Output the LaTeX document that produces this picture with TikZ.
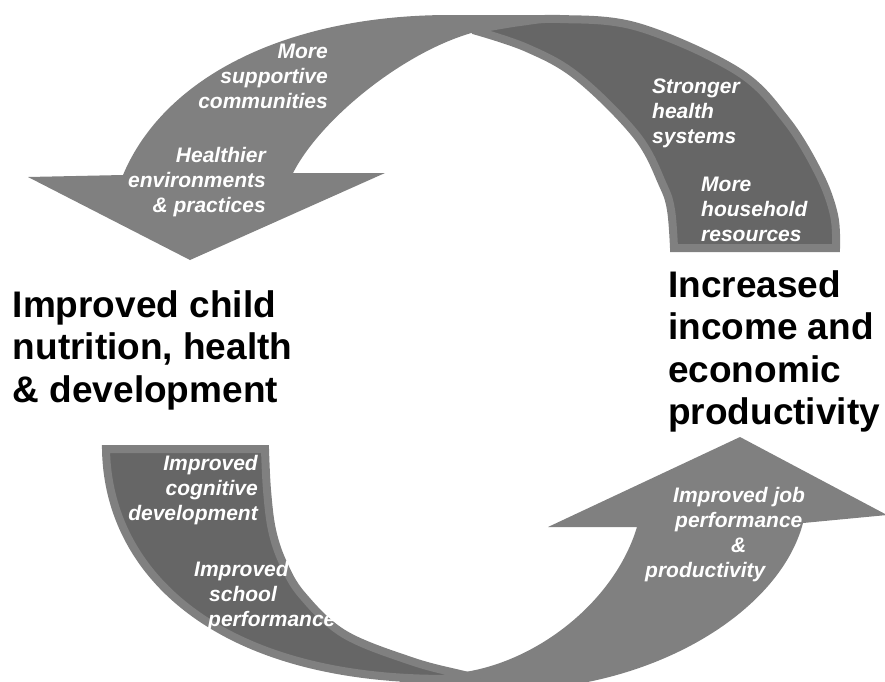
\documentclass[tikz,border=0pt]{standalone}
\usepackage{fontspec}
\setmainfont{Liberation Sans}
\definecolor{arrowgray}{RGB}{128,128,128}
\definecolor{bandgray}{RGB}{102,102,102}
\begin{document}
\begin{tikzpicture}[x=1pt,y=-1pt,
  arrowshape/.style={fill=arrowgray},
  bandshape/.style={fill=bandgray,draw=arrowgray,line width=8pt,line join=miter,miter limit=2},
  outcome/.style={font=\fontsize{37}{42.6}\selectfont\bfseries,align=left,inner sep=0pt,text=black},
  effect/.style={font=\fontsize{21}{25}\selectfont\bfseries\itshape,inner sep=0pt,text=white}]
\path[use as bounding box] (0,0) rectangle (885,681);
\clip (0,0) rectangle (885,681);

% left arrow: from the top, bending down towards child nutrition
\fill[arrowshape] (28,177) -- (123,175) .. controls (165,75) and (290,15) .. (450,15)
  -- (560,15) -- (560,26) -- (480,30) -- (468,34)
  .. controls (400,55) and (320,120) .. (293,173) -- (385,173) -- (190,260) -- cycle;

% right arrow: rising from the bottom towards income
\fill[arrowshape] (548,527) -- (637,527) .. controls (615,600) and (540,660) .. (465,672)
  -- (400,681) -- (400,700) -- (520,700) -- (520,690)
  .. controls (660,685) and (780,610) .. (803,523) -- (887,515) -- (740,437) -- cycle;

% upper right band
\path[bandshape] plot[smooth,tension=0.6] coordinates {(473,30) (520,22) (560,19) (638,27) (737,71) (786,120) (819,174) (834,215) (836,248)}
  -- (674,248)
  -- plot[smooth,tension=0.6] coordinates {(674,248) (671,210) (663,185) (637,136) (578,77) (527,48) (473,30)} -- cycle;

% lower left band
\path[bandshape] (106,449) -- (265,449)
  -- plot[smooth,tension=0.6] coordinates {(265,449) (267,490) (272,530) (283,563) (302,595) (344,634) (411,661) (460,674) (480,678)}
  .. controls (230,690) and (108,580) .. (106,449) -- cycle;

% outcomes
\node[outcome,anchor=north west] (child) at (12.6,290) {Improved child\\nutrition, health\\\& development};
\node[outcome,anchor=north west] (income) at (668,270) {Increased\\income and\\economic\\productivity};

% pathways
\node[effect,align=right,anchor=north east] (community) at (328,44) {More\\supportive\\communities};
\node[effect,align=right,anchor=north east] (environment) at (266,147) {Healthier\\environments\\\& practices};
\node[effect,align=left,anchor=north west] (healthsys) at (652,79) {Stronger\\health\\systems};
\node[effect,align=left,anchor=north west] (household) at (701,177) {More\\household\\resources};
\node[effect,align=right,anchor=north east] (cognitive) at (258,455) {Improved\\cognitive\\development};
\node[effect,align=left,anchor=north west] (school) at (194,561) {Improved\\\hspace*{15pt}school\\\hspace*{14pt}performance};
\node[effect,align=left,anchor=north west] (job) at (645,487) {\hspace*{28pt}Improved job\\\hspace*{30pt}performance\\\hspace*{86pt}\&\\productivity};
\end{tikzpicture}
\end{document}
